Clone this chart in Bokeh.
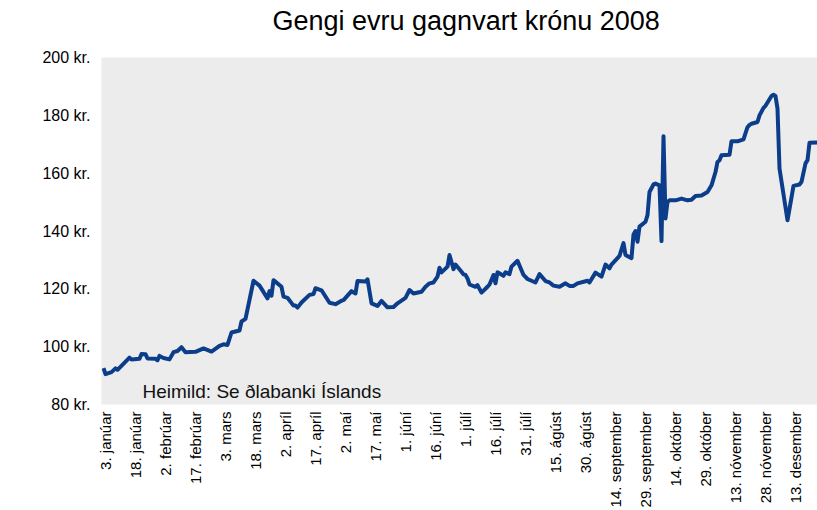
import math
import pandas as pd
from bokeh.plotting import figure
from bokeh.models import Range1d, FixedTicker, Label, ColumnDataSource, PrintfTickFormatter, Title
from bokeh.embed import file_html
from bokeh.resources import INLINE

# ---- data ----
dates = [
    "2008-01-02", "2008-01-03", "2008-01-06", "2008-01-08", "2008-01-09", "2008-01-15",
    "2008-01-16", "2008-01-20", "2008-01-21", "2008-01-23", "2008-01-24", "2008-01-28",
    "2008-01-29", "2008-01-30", "2008-02-01", "2008-02-04", "2008-02-06", "2008-02-08",
    "2008-02-10", "2008-02-12", "2008-02-17", "2008-02-21", "2008-02-25", "2008-02-29",
    "2008-03-02", "2008-03-04", "2008-03-06", "2008-03-10", "2008-03-11", "2008-03-13",
    "2008-03-17", "2008-03-20", "2008-03-24", "2008-03-25", "2008-03-26", "2008-03-27",
    "2008-03-31", "2008-04-01", "2008-04-03", "2008-04-06", "2008-04-07", "2008-04-08",
    "2008-04-10", "2008-04-14", "2008-04-16", "2008-04-17", "2008-04-20", "2008-04-24",
    "2008-04-27", "2008-04-30", "2008-05-01", "2008-05-05", "2008-05-07", "2008-05-08",
    "2008-05-12", "2008-05-13", "2008-05-15", "2008-05-18", "2008-05-20", "2008-05-23",
    "2008-05-26", "2008-05-28", "2008-06-01", "2008-06-03", "2008-06-05", "2008-06-09",
    "2008-06-11", "2008-06-13", "2008-06-15", "2008-06-17", "2008-06-18", "2008-06-19",
    "2008-06-22", "2008-06-23", "2008-06-25", "2008-06-26", "2008-06-29", "2008-06-30",
    "2008-07-01", "2008-07-02", "2008-07-03", "2008-07-06", "2008-07-07", "2008-07-09",
    "2008-07-12", "2008-07-13", "2008-07-15", "2008-07-16", "2008-07-17", "2008-07-20",
    "2008-07-21", "2008-07-23", "2008-07-24", "2008-07-27", "2008-07-30", "2008-08-01",
    "2008-08-05", "2008-08-07", "2008-08-10", "2008-08-12", "2008-08-14", "2008-08-17",
    "2008-08-20", "2008-08-22", "2008-08-24", "2008-08-26", "2008-08-31", "2008-09-01",
    "2008-09-04", "2008-09-07", "2008-09-09", "2008-09-11", "2008-09-12", "2008-09-16",
    "2008-09-18", "2008-09-19", "2008-09-22", "2008-09-23", "2008-09-24", "2008-09-25",
    "2008-09-26", "2008-09-29", "2008-09-30", "2008-10-01", "2008-10-03", "2008-10-04",
    "2008-10-06", "2008-10-07", "2008-10-08", "2008-10-09", "2008-10-10", "2008-10-11",
    "2008-10-14", "2008-10-17", "2008-10-20", "2008-10-22", "2008-10-24", "2008-10-27",
    "2008-10-30", "2008-11-01", "2008-11-03", "2008-11-04", "2008-11-05", "2008-11-06",
    "2008-11-10", "2008-11-11", "2008-11-14", "2008-11-17", "2008-11-19", "2008-11-20",
    "2008-11-21", "2008-11-24", "2008-11-25", "2008-11-27", "2008-11-28", "2008-12-01",
    "2008-12-02", "2008-12-03", "2008-12-04", "2008-12-05", "2008-12-09", "2008-12-12",
    "2008-12-15", "2008-12-16", "2008-12-18", "2008-12-19", "2008-12-20", "2008-12-24",
]
eur_isk = [
    92.6, 90.5, 91.2, 92.5, 92.0, 96.2,
    95.6, 95.8, 97.5, 97.4, 95.9, 95.8,
    95.3, 96.8, 96.1, 95.6, 98.1, 98.5,
    99.8, 98.1, 98.2, 99.4, 98.3, 100.3,
    100.8, 100.6, 104.9, 105.6, 108.7, 109.6,
    122.8, 121.1, 116.7, 119.2, 117.6, 123.0,
    120.7, 117.3, 116.9, 114.2, 114.2, 113.5,
    115.3, 117.9, 118.2, 120.2, 119.5, 115.2,
    114.7, 115.9, 116.1, 119.2, 118.4, 122.7,
    122.5, 123.3, 115.0, 114.1, 115.8, 113.6,
    113.7, 115.0, 116.9, 119.6, 118.4, 119.0,
    120.7, 121.9, 122.2, 124.2, 127.3, 125.7,
    127.7, 131.7, 126.8, 128.4, 125.9, 125.0,
    124.8, 123.6, 121.5, 120.7, 121.3, 118.7,
    120.7, 121.5, 124.8, 121.9, 125.7, 124.5,
    125.7, 125.1, 127.7, 129.7, 124.8, 123.4,
    122.2, 125.1, 122.7, 122.2, 121.1, 120.7,
    121.9, 121.0, 121.0, 121.9, 122.8, 122.2,
    125.6, 124.2, 128.4, 127.1, 128.4, 131.4,
    135.8, 131.7, 130.6, 138.8, 140.0, 136.3,
    141.5, 143.2, 145.5, 153.5, 156.1, 156.4,
    155.8, 136.5, 172.8, 144.3, 150.1, 150.6,
    150.6, 151.2, 150.6, 150.8, 152.1, 152.3,
    153.5, 155.8, 160.4, 163.9, 164.5, 166.2,
    166.4, 171.0, 171.0, 171.7, 175.9, 176.7,
    177.1, 177.7, 180.0, 182.6, 183.3, 186.7,
    187.1, 186.7, 182.3, 161.6, 143.7, 155.6,
    156.1, 157.0, 163.4, 164.5, 170.5, 170.6,
]
tick_dates = [
    "2008-01-03", "2008-01-18", "2008-02-02", "2008-02-17", "2008-03-03", "2008-03-18",
    "2008-04-02", "2008-04-17", "2008-05-02", "2008-05-17", "2008-06-01", "2008-06-16",
    "2008-07-01", "2008-07-16", "2008-07-31", "2008-08-15", "2008-08-30", "2008-09-14",
    "2008-09-29", "2008-10-14", "2008-10-29", "2008-11-13", "2008-11-28", "2008-12-13",
]
tick_labels = [
    "3. janúar", "18. janúar", "2. febrúar", "17. febrúar", "3. mars", "18. mars",
    "2. apríl", "17. apríl", "2. maí", "17. maí", "1. júní", "16. júní",
    "1. júlí", "16. júlí", "31. júlí", "15. ágúst", "30. ágúst", "14. september",
    "29. september", "14. október", "29. október", "13. nóvember", "28. nóvember", "13. desember",
]
y_ticks = [80, 100, 120, 140, 160, 180, 200]
title_text = "Gengi evru gagnvart krónu 2008"
source_text = "Heimild: Se ðlabanki Íslands"

FONT = "Liberation Sans"

def ms(s):
    return int(pd.Timestamp(s).value // 10**6)

src = ColumnDataSource(dict(x=pd.to_datetime(dates), y=eur_isk))

p = figure(
    width=817, height=510,
    x_axis_type="datetime",
    x_range=Range1d(ms("2008-01-01"), ms("2008-12-24")),
    y_range=Range1d(80, 200),
    title=title_text,
    output_backend="svg", toolbar_location=None,
    min_border_left=101, min_border_right=0, min_border_top=55, min_border_bottom=0,
)

p.background_fill_color = "#ececec"
p.border_fill_color = "white"
p.outline_line_color = None
p.xgrid.grid_line_color = None
p.ygrid.grid_line_color = None

p.title.align = "left"
p.title.vertical_align = "top"
p.title.offset = 171
p.title.standoff = 10
p.title.text_font = FONT
p.title.text_font_size = "27px"
p.title.text_font_style = "normal"
p.title.text_color = "black"

# blank spacer between title and plot area
p.add_layout(Title(text=" ", text_font=FONT, text_font_size="10px", standoff=2), "above")

p.line("x", "y", source=src, line_width=4, line_color="#0b3d8b", line_join="round")

tick_ms = [ms(d) for d in tick_dates]
xa = p.xaxis[0]
xa.ticker = FixedTicker(ticks=tick_ms)
xa.major_label_overrides = {t: lab for t, lab in zip(tick_ms, tick_labels)}
xa.major_label_orientation = math.pi / 2
xa.major_label_standoff = 7
xa.major_label_text_font = FONT
xa.major_label_text_font_size = "15px"
xa.major_label_text_color = "black"
xa.axis_line_color = None
xa.major_tick_line_color = None
xa.minor_tick_line_color = None
xa.major_tick_out = 0
xa.major_tick_in = 0

ya = p.yaxis[0]
ya.ticker = FixedTicker(ticks=y_ticks)
ya.formatter = PrintfTickFormatter(format="%d kr.")
ya.major_label_standoff = 11
ya.major_label_text_font = FONT
ya.major_label_text_font_size = "16px"
ya.major_label_text_color = "black"
ya.axis_line_color = None
ya.major_tick_line_color = None
ya.minor_tick_line_color = None
ya.major_tick_out = 0
ya.major_tick_in = 0

p.add_layout(Label(
    x=ms("2008-01-21 12:00"), y=84.6, text=source_text,
    text_font=FONT, text_font_size="19px", text_color="#111111",
    text_baseline="middle", text_align="left",
))

open("out.html", "w").write(file_html(p, INLINE))
